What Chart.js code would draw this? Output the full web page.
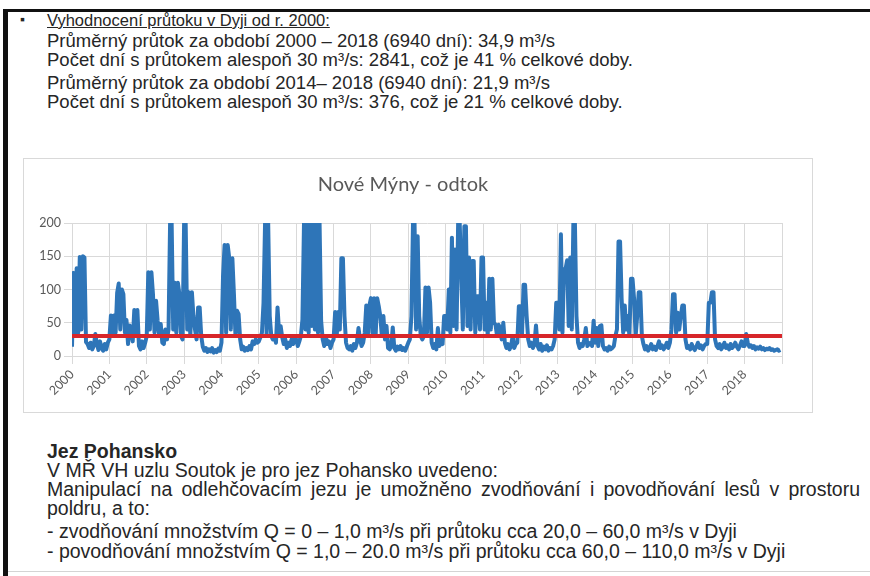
<!DOCTYPE html>
<html>
<head>
<meta charset="utf-8">
<script src="https://cdn.jsdelivr.net/npm/chart.js@4.4.1/dist/chart.umd.min.js"></script>
<style>
  body { margin: 0; width: 870px; height: 576px; background: #fff; position: relative; overflow: hidden;
         font-family: "Liberation Sans", Arial, sans-serif; color: #262626; }
  .frame { position: absolute; left: 3px; top: 9px; width: 870px; height: 600px;
           border-top: 3px solid #111; border-left: 5px solid #111; }
  .t { position: absolute; left: 47px; font-size: 18.5px; line-height: 20px; white-space: nowrap; }
  .lo { font-size: 19.5px; }
  .head { font-size: 16.5px; }
  .bullet { position: absolute; left: 20px; top: 9px; font-size: 14px; line-height: 20px; }
  .u { text-decoration: underline; }
  .b { font-weight: bold; }
  .just { position: absolute; left: 47px; width: 813px; font-size: 19.5px; line-height: 20px;
          text-align: justify; text-align-last: justify; white-space: nowrap; }
  .box { position: absolute; left: 23px; top: 158px; width: 790px; height: 255px;
         border: 1px solid #d9d9d9; box-sizing: border-box; }
  .bottomline { position: absolute; left: 8px; top: 571px; width: 862px; height: 1px; background: #d4d4d4; }
</style>
</head>
<body>
<div class="frame"></div>
<div class="bullet">&#9642;</div>
<div class="t head u" style="top:10px">Vyhodnocení průtoku v Dyji od r. 2000:</div>
<div class="t" style="top:31px">Průměrný průtok za období 2000 – 2018 (6940 dní): 34,9 m³/s</div>
<div class="t" style="top:50px">Počet dní s průtokem alespoň 30 m³/s: 2841, což je 41 % celkové doby.</div>
<div class="t" style="top:73px">Průměrný průtok za období 2014– 2018 (6940 dní): 21,9 m³/s</div>
<div class="t" style="top:92px">Počet dní s průtokem alespoň 30 m³/s: 376, což je 21 % celkové doby.</div>

<div class="box"><canvas id="flow-chart" width="788" height="253"></canvas></div>

<div class="t lo b" style="top:441px">Jez Pohansko</div>
<div class="t lo" style="top:460px">V MŘ VH uzlu Soutok je pro jez Pohansko uvedeno:</div>
<div class="just" style="top:479px">Manipulací na odlehčovacím jezu je umožněno zvodňování i povodňování lesů v prostoru</div>
<div class="t lo" style="top:498px">poldru, a to:</div>
<div class="t lo" style="top:521px">- zvodňování množstvím Q = 0 – 1,0 m³/s při průtoku cca 20,0 – 60,0 m³/s v Dyji</div>
<div class="t lo" style="top:541px">- povodňování množstvím Q = 1,0 – 20.0 m³/s při průtoku cca 60,0 – 110,0 m³/s v Dyji</div>
<div class="bottomline"></div>

<script>
// tick labels of the x axis
const years = [2000, 2001, 2002, 2003, 2004, 2005, 2006, 2007, 2008, 2009,
  2010, 2011, 2012, 2013, 2014, 2015, 2016, 2017, 2018]

// Nové Mýny outflow [m3/s], two values per month
const flow2000 = [14, 125, 30, 132, 35, 149, 40, 150, 148, 21, 18, 12, 20, 10, 15, 33, 18, 9, 22, 12, 8, 18, 10, 20]
const flow2001 = [25, 61, 30, 61, 35, 95, 109, 40, 100, 93, 35, 54, 18, 46, 40, 22, 69, 30, 69, 15, 10, 22, 12, 20]
const flow2002 = [30, 126, 40, 126, 93, 35, 83, 53, 30, 48, 20, 18, 40, 25, 40, 200, 200, 40, 110, 35, 110, 93, 30, 25]
const flow2003 = [200, 200, 40, 96, 30, 96, 60, 40, 25, 73, 73, 30, 14, 8, 12, 6, 10, 7, 12, 5, 9, 6, 11, 8]
const flow2004 = [20, 120, 167, 35, 167, 147, 40, 147, 93, 30, 68, 63, 25, 10, 14, 8, 12, 9, 15, 10, 22, 18, 25, 20]
const flow2005 = [22, 28, 35, 80, 200, 30, 200, 60, 30, 25, 30, 20, 73, 35, 45, 28, 18, 25, 12, 20, 15, 25, 18, 28]
const flow2006 = [25, 15, 22, 30, 55, 200, 40, 200, 35, 200, 45, 200, 40, 200, 35, 200, 53, 25, 15, 30, 18, 22, 12, 20]
const flow2007 = [25, 66, 30, 66, 40, 147, 147, 60, 20, 12, 10, 15, 8, 18, 12, 20, 42, 25, 15, 20, 35, 76, 30, 76]
const flow2008 = [87, 35, 87, 30, 87, 75, 60, 30, 60, 25, 45, 12, 10, 15, 43, 12, 8, 14, 10, 15, 9, 12, 8, 14]
const flow2009 = [20, 25, 60, 200, 200, 40, 180, 60, 30, 25, 30, 103, 35, 103, 80, 20, 12, 18, 10, 42, 15, 20, 18, 60]
const flow2010 = [60, 40, 100, 35, 178, 45, 160, 40, 200, 200, 120, 40, 195, 195, 45, 148, 40, 143, 143, 35, 90, 90, 40, 148]
const flow2011 = [148, 40, 80, 30, 116, 40, 116, 50, 47, 30, 47, 40, 25, 50, 20, 12, 18, 10, 15, 30, 12, 18, 20, 75]
const flow2012 = [75, 30, 107, 107, 60, 25, 15, 20, 12, 18, 46, 15, 10, 18, 8, 14, 10, 16, 8, 12, 10, 15, 25, 80]
const flow2013 = [80, 40, 183, 35, 131, 131, 144, 45, 148, 40, 200, 200, 60, 20, 12, 18, 15, 25, 42, 15, 18, 20, 15, 53]
const flow2014 = [20, 42, 15, 45, 46, 15, 10, 12, 8, 14, 10, 12, 15, 30, 40, 172, 172, 86, 35, 76, 40, 60, 30, 116]
const flow2015 = [116, 86, 30, 60, 96, 96, 30, 18, 10, 15, 8, 12, 18, 10, 14, 9, 15, 22, 12, 16, 10, 14, 20, 12]
const flow2016 = [20, 40, 93, 93, 35, 65, 40, 60, 76, 76, 25, 12, 15, 10, 18, 12, 9, 14, 20, 12, 16, 10, 15, 18]
const flow2017 = [18, 80, 80, 96, 96, 25, 15, 12, 18, 10, 14, 20, 12, 16, 10, 18, 12, 15, 20, 14, 10, 16, 22, 15]
const flow2018 = [15, 33, 20, 14, 16, 12, 15, 10, 13, 11, 14, 10, 12, 9, 11, 10, 12, 9, 10, 8, 9, 10, 8, 9]

// red reference line, 30 m3/s
const limitFlow = 30

const flowYears = [flow2000, flow2001, flow2002, flow2003, flow2004, flow2005, flow2006,
  flow2007, flow2008, flow2009, flow2010, flow2011, flow2012, flow2013, flow2014,
  flow2015, flow2016, flow2017, flow2018]

const flowPoints = []
flowYears.forEach((values, idx) => {
  values.forEach((v, i) => {
    flowPoints.push({ x: years[idx] + i / values.length, y: v })
  })
})

const lastYear = years[years.length - 1] + 1
const limitPoints = [{ x: years[0], y: limitFlow }, { x: lastYear, y: limitFlow }]

const ctx = document.getElementById('flow-chart').getContext('2d')
new Chart(ctx, {
  type: 'line',
  data: {
    datasets: [
      {
        data: limitPoints,
        borderColor: '#d7262a',
        borderWidth: 4,
        pointRadius: 0
      },
      {
        data: flowPoints,
        borderColor: '#2e75b8',
        borderWidth: 4,
        borderJoinStyle: 'round',
        pointRadius: 0,
        tension: 0
      }
    ]
  },
  options: {
    responsive: false,
    animation: false,
    layout: { padding: { left: 0, right: 30, top: 0, bottom: 0 } },
    plugins: {
      legend: { display: false },
      tooltip: { enabled: false },
      title: {
        display: true,
        text: 'Nové Mýny - odtok',
        color: '#595959',
        font: { family: 'Lato', size: 20, weight: 'normal' },
        padding: { top: 14, bottom: 26 }
      }
    },
    scales: {
      x: {
        type: 'linear',
        min: years[0],
        max: lastYear,
        grid: { color: '#d9d9d9' },
        border: { color: '#d9d9d9' },
        ticks: {
          stepSize: 1,
          minRotation: 45,
          maxRotation: 45,
          color: '#595959',
          font: { family: 'Lato', size: 12.5 },
          callback: value => (value === lastYear ? '' : String(value))
        },
        afterFit: scale => { scale.height = 56 }
      },
      y: {
        min: 0,
        max: 200,
        grid: { color: '#d9d9d9' },
        border: { color: '#d9d9d9' },
        ticks: { stepSize: 50, color: '#595959', font: { family: 'Lato', size: 12.5 } },
        afterFit: scale => { scale.width = 48 }
      }
    }
  }
})
</script>
</body>
</html>
